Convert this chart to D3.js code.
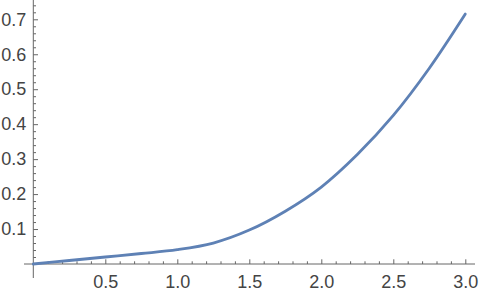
<!DOCTYPE html>
<html>
<head>
<meta charset="utf-8">
<script src="https://cdn.jsdelivr.net/npm/d3@7"></script>
<style>
  body { margin: 0; background: #fff; }
  text { font-family: "Liberation Sans", Arial, sans-serif; }
</style>
</head>
<body>
<div id="chart"></div>
<script>
// values
const xs = [0, 0.25, 0.5, 0.75, 1.0, 1.25, 1.5, 1.75, 2.0, 2.25, 2.5, 2.75, 3.0];
const ys = [0, 0.01, 0.02, 0.03, 0.041, 0.060, 0.097, 0.151, 0.220, 0.313, 0.425, 0.560, 0.715];

const xMajor = [0.5, 1.0, 1.5, 2.0, 2.5, 3.0];
const yMajor = [0.1, 0.2, 0.3, 0.4, 0.5, 0.6, 0.7];

//==============================================================================

const width = 480, height = 296;
const axisColor = "#666", textColor = "#444", lineColor = "#5E81B5";

const x = d3.scaleLinear().domain([0, 3]).range([33.3, 465.3]);
const y = d3.scaleLinear().domain([0, 0.7]).range([264, 19.3]);

// minor ticks every 0.1 on x, every 0.02 on y
const xMinor = d3.range(1, 31).map(i => i / 10).filter(v => Math.round(v * 10) % 5 != 0);
const yMinor = d3.range(1, 38).map(i => i / 50).filter(v => Math.round(v * 50) % 5 != 0);

const svg = d3.select("#chart").append("svg")
    .attr("width", width)
    .attr("height", height);

function styleAxis(g) {
  g.select(".domain").remove();
  g.selectAll("line").attr("stroke", axisColor);
  g.selectAll("text")
    .attr("fill", textColor)
    .attr("font-size", 18);
}

// axis lines (they run a bit past the origin, like Mathematica draws them)
svg.append("line")
    .attr("x1", 24).attr("x2", 475)
    .attr("y1", y(0)).attr("y2", y(0))
    .attr("stroke", axisColor);
svg.append("line")
    .attr("x1", x(0)).attr("x2", x(0))
    .attr("y1", 0).attr("y2", 278)
    .attr("stroke", axisColor);

// x ticks, pointing inward
svg.append("g")
    .attr("transform", `translate(0,${y(0)})`)
    .call(d3.axisBottom(x).tickValues(xMinor).tickSize(-2.7).tickFormat(""))
    .call(styleAxis);
svg.append("g")
    .attr("transform", `translate(0,${y(0)})`)
    .call(d3.axisBottom(x).tickValues(xMajor).tickSize(-4.7).tickPadding(11).tickFormat(d3.format(".1f")))
    .call(styleAxis);

// y ticks
svg.append("g")
    .attr("transform", `translate(${x(0)},0)`)
    .call(d3.axisLeft(y).tickValues(yMinor).tickSize(-2.7).tickFormat(""))
    .call(styleAxis);
svg.append("g")
    .attr("transform", `translate(${x(0)},0)`)
    .call(d3.axisLeft(y).tickValues(yMajor).tickSize(-4.7).tickPadding(7).tickFormat(d3.format(".1f")))
    .call(styleAxis);

// the curve
const line = d3.line()
    .x((d, i) => x(xs[i]))
    .y(d => y(d))
    .curve(d3.curveCatmullRom.alpha(0.5));

svg.append("path")
    .datum(ys)
    .attr("fill", "none")
    .attr("stroke", lineColor)
    .attr("stroke-width", 2.8)
    .attr("stroke-linecap", "round")
    .attr("d", line);
</script>
</body>
</html>
